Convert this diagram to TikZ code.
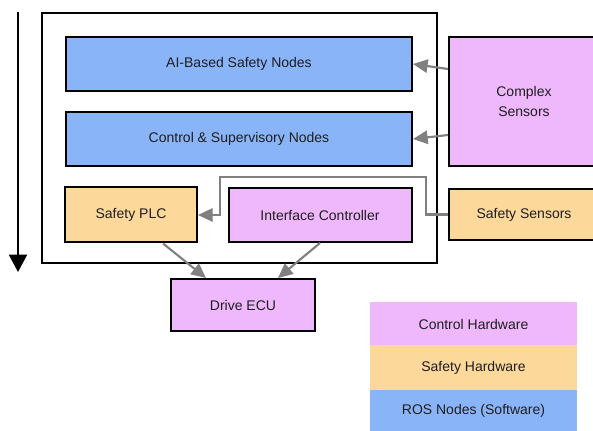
\documentclass[tikz,border=0pt]{standalone}
\usepackage{fontspec}
\setmainfont{Liberation Sans}
\usetikzlibrary{arrows.meta,calc}
\definecolor{rosblue}{RGB}{138,180,248}
\definecolor{ctrlpink}{RGB}{240,184,252}
\definecolor{safeorange}{RGB}{253,216,155}
\definecolor{flowgray}{RGB}{128,128,128}
\definecolor{txt}{RGB}{30,30,30}
\def\pxu{0.75pt}
\tikzset{
  blk/.style={draw=black, line width=1.5pt, text=txt, align=center,
    inner sep=0pt, font=\fontsize{10.5}{12.6}\selectfont},
  band/.style={draw=none, text=txt, inner sep=0pt,
    font=\fontsize{10.5}{12.6}\selectfont},
  flow/.style={draw=flowgray, line width=1.6pt,
    -{Triangle[length=11pt,width=10pt]}},
  dim/.style 2 args={minimum width=#1*\pxu, minimum height=#2*\pxu},
}
\begin{document}
\begin{tikzpicture}[x=0.75pt,y=-0.75pt]
\useasboundingbox (0,0) rectangle (593,431);
\begin{scope}
\clip (0,0) rectangle (593,431);

% time / flow arrow on the left
\coordinate (ltop) at (18,12);
\coordinate (lbot) at (18,272);
\draw[line width=1.6pt, -{Triangle[length=13pt,width=13.5pt]}] (ltop) -- (lbot);

% enclosing vehicle box
\node[draw=black, line width=1.6pt, dim={395}{250}, inner sep=0pt] (outer) at (239.5,138) {};

% software layers
\node[blk, fill=rosblue, dim={346}{54}] (ai) at (239,64) {AI-Based Safety Nodes};
\node[blk, fill=rosblue, dim={346}{54}] (ctrl) at (239,139) {Control \& Supervisory Nodes};

% hardware inside
\node[blk, fill=safeorange, dim={132}{55}] (plc) at (131,215) {Safety PLC};
\node[blk, fill=ctrlpink, dim={183}{54}] (ifc) at (320,215) {Interface Controller};

% sensors
\node[blk, fill=ctrlpink, dim={150}{129}] (cs) at (524,101.5) {Complex\\[2.4pt]Sensors};
\node[blk, fill=safeorange, dim={150}{51}] (ss) at (524,214.5) {Safety Sensors};

% drive
\node[blk, fill=ctrlpink, dim={144}{52}] (ecu) at (243,305) {Drive ECU};

% connectors
\draw[flow] ($(cs.west)+(0,-32.5)$) -- (ai.east);
\draw[flow] ($(cs.west)+(0,33.5)$) -- (ctrl.east);
\draw[flow] (ss.west) -- ++(-22,0) |- (220,177) |- (plc.east);
\draw[flow] ($(plc.south)+(32,0)$) -- ($(ecu.north)+(-37,0)$);
\draw[flow] (ifc.south) -- ($(ecu.north)+(35,0)$);

% legend
\node[band, fill=ctrlpink, dim={207}{44}] (lgc) at (473.5,324) {Control Hardware};
\node[band, fill=safeorange, dim={207}{45}] (lgs) at (473.5,367.5) {Safety Hardware};
\node[band, fill=rosblue, dim={207}{41}] (lgr) at (473.5,410.5) {ROS Nodes (Software)};
\end{scope}
\end{tikzpicture}
\end{document}
